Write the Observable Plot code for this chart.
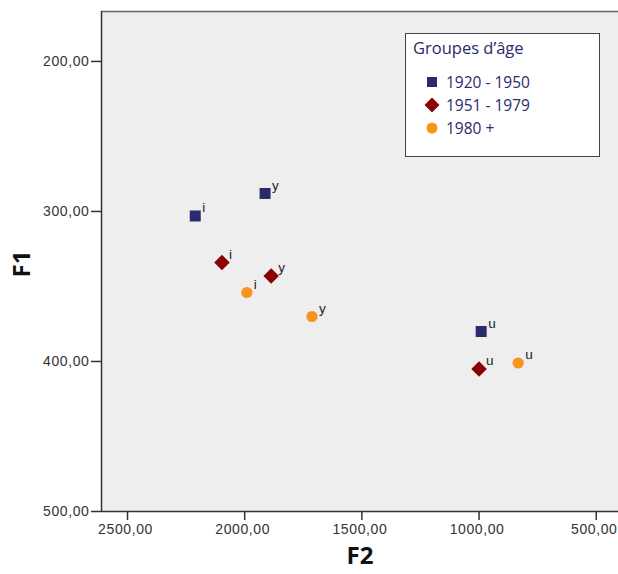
<!DOCTYPE html>
<html><head><meta charset="utf-8">
<script src="https://cdn.jsdelivr.net/npm/d3@7"></script>
<script src="https://cdn.jsdelivr.net/npm/@observablehq/plot@0.6"></script>
<style>
body{margin:0;background:#fff;}
#wrap{position:relative;width:618px;height:574px;overflow:hidden;}
#wrap g[aria-label$="tick label"] text{letter-spacing:0.6px;}
#legend{position:absolute;left:405px;top:33px;width:193px;height:122px;border:1px solid #444;background:#fff;font-family:"Open Sans",sans-serif;color:#2a2a6c;}
#legend .title{position:absolute;left:7px;top:2px;font-size:16.5px;}
#legend .item{position:absolute;left:20px;font-size:15.5px;display:flex;align-items:center;}
#legend .item svg{margin-right:8px;}
</style></head><body><div id="wrap"></div>
<script>
const vowels = ["i", "y", "u"];
const groups = ["1920 - 1950", "1951 - 1979", "1980 +"];
const colors = ["#2a2a6c", "#8b0000", "#f7941d"];
const symbols = ["square", "diamond2", "circle"];
const f2_1920 = [2211, 1913, 991];
const f1_1920 = [303, 288, 380];
const f2_1951 = [2097, 1887, 1000];
const f1_1951 = [334, 343, 405];
const f2_1980 = [1991, 1713, 833];
const f1_1980 = [354, 370, 401];
const xTicks = [2500, 2000, 1500, 1000, 500];
const yTicks = [200, 300, 400, 500];

const series = [f2_1920, f2_1951, f2_1980].map((f2, g) => {
  const f1 = [f1_1920, f1_1951, f1_1980][g];
  return vowels.map((v, i) => ({vowel: v, group: groups[g], F2: f2[i], F1: f1[i]}));
});
const radii = [6.2, 7.0, 5.6];
const fmt = d => d3.format(".2f")(d).replace(".", ",");

const chart = Plot.plot({
  width: 618, height: 574,
  marginLeft: 101, marginRight: 0, marginTop: 11, marginBottom: 63,
  style: {background: "#fff", fontFamily: "'Liberation Sans', Arial, sans-serif", fontSize: "14px", color: "#333"},
  x: {domain: [2611, 405]},
  y: {domain: [500, 166.7]},
  marks: [
    Plot.frame({fill: "#eeeeee", stroke: null}),
    Plot.ruleY([166.7], {stroke: "#666", strokeWidth: 1.5}),
    Plot.axisX({ticks: xTicks, tickFormat: fmt, tickSize: 9, tickPadding: 4, stroke: "#333", strokeWidth: 1.5, fill: "#333", fontSize: 14, label: null}),
    Plot.axisY({ticks: yTicks, tickFormat: fmt, tickSize: 10, tickPadding: 2, stroke: "#333", strokeWidth: 1.5, fill: "#333", fontSize: 14, label: null}),
    Plot.ruleX([2611], {stroke: "#333", strokeWidth: 1.5}),
    Plot.ruleY([500], {stroke: "#333", strokeWidth: 1.5}),
    ...series.map((data, g) => Plot.dot(data, {x: "F2", y: "F1", symbol: () => symbols[g], fill: colors[g], stroke: null, r: radii[g]})),
    ...series.map(data => Plot.text(data, {x: "F2", y: "F1", text: "vowel", dx: 7, dy: -8, textAnchor: "start", fontSize: 13.5, fill: "#222"})),
    Plot.text(["F2"], {frameAnchor: "bottom", dy: 52, text: d => d, fontSize: 24, fontWeight: "bold", fill: "#111", fontFamily: "'Open Sans', sans-serif"}),
    Plot.text(["F1"], {frameAnchor: "left", dx: -79, dy: 16, rotate: -90, text: d => d, fontSize: 24, fontWeight: "bold", fill: "#111", fontFamily: "'Open Sans', sans-serif"})
  ]
});
const wrap = document.getElementById("wrap");
wrap.appendChild(chart);
// shift x tick labels slightly left, as in the reference
chart.querySelectorAll('g[aria-label="x-axis tick label"] text').forEach(el => {
  el.setAttribute("dx", "-2");
});

const legend = document.createElement("div");
legend.id = "legend";
const t = document.createElement("div");
t.className = "title";
t.textContent = "Groupes d\u2019âge";
legend.appendChild(t);
const shapes = [
  c => `<rect x="1" y="1" width="10" height="10" fill="${c}"/>`,
  c => `<path d="M6,-1.5L13.5,6L6,13.5L-1.5,6Z" fill="${c}"/>`,
  c => `<circle cx="6" cy="6" r="5.5" fill="${c}"/>`
];
groups.forEach((g, i) => {
  const it = document.createElement("div");
  it.className = "item";
  it.style.top = (37 + i * 23) + "px";
  it.innerHTML = `<svg width="12" height="12" viewBox="0 0 12 12" style="overflow:visible">${shapes[i](colors[i])}</svg><span>${g}</span>`;
  legend.appendChild(it);
});
wrap.appendChild(legend);
</script></body></html>
